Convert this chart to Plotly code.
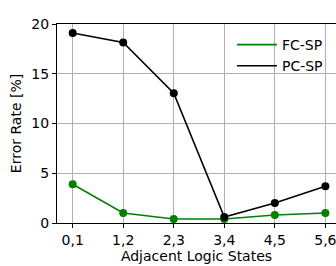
import plotly.graph_objects as go

categories = ["0,1", "1,2", "2,3", "3,4", "4,5", "5,6"]
fc_sp = [3.9, 1.0, 0.4, 0.4, 0.8, 1.0]
pc_sp = [19.1, 18.15, 13.05, 0.6, 2.0, 3.7]
y_ticks = [0, 5, 10, 15, 20]

xs = list(range(len(categories)))
font = "DejaVu Sans"
green = "#008000"

fig = go.Figure()
for name, vals, col in [("FC-SP", fc_sp, green), ("PC-SP", pc_sp, "black")]:
    fig.add_trace(go.Scatter(x=xs, y=vals, mode="lines", name=name,
                             line=dict(color=col, width=1.6)))
for name, vals, col in [("FC-SP", fc_sp, green), ("PC-SP", pc_sp, "black")]:
    fig.add_trace(go.Scatter(x=xs, y=vals, mode="markers", showlegend=False,
                             marker=dict(color=col, size=8, symbol="circle"),
                             error_y=dict(type="constant", value=0.35, color=col,
                                          thickness=1.2, width=0)))

fig.update_layout(
    width=336, height=266,
    margin=dict(l=57, r=0, t=24, b=43),
    plot_bgcolor="white", paper_bgcolor="white",
    font=dict(family=font, size=14, color="black"),
    showlegend=True,
    legend=dict(x=0.627, y=0.975, xanchor="left", yanchor="top",
                bgcolor="rgba(0,0,0,0)", font=dict(size=14, family=font),
                tracegroupgap=0, itemwidth=40),
)
fig.update_xaxes(
    range=[-0.31, 5.21], tickvals=xs, ticktext=categories,
    ticklabeloverflow="allow",
    showgrid=True, gridcolor="#b0b0b0", gridwidth=1,
    showline=True, linecolor="black", linewidth=1, mirror=True,
    ticks="outside", ticklen=4, tickcolor="black",
    zeroline=False,
    title=dict(text="Adjacent Logic States", font=dict(size=14), standoff=2),
    tickfont=dict(size=14),
)
fig.update_yaxes(
    range=[0, 20], tickvals=y_ticks,
    showgrid=True, gridcolor="#b0b0b0", gridwidth=1,
    showline=True, linecolor="black", linewidth=1,
    ticks="outside", ticklen=4, tickcolor="black",
    zeroline=False,
    title=dict(text="Error Rate [%]", font=dict(size=14), standoff=6),
    tickfont=dict(size=14),
)
fig.write_html(
    "out.html",
    config={"displayModeBar": False},
    post_script="document.body.style.margin='0';document.body.style.overflow='hidden';",
)
